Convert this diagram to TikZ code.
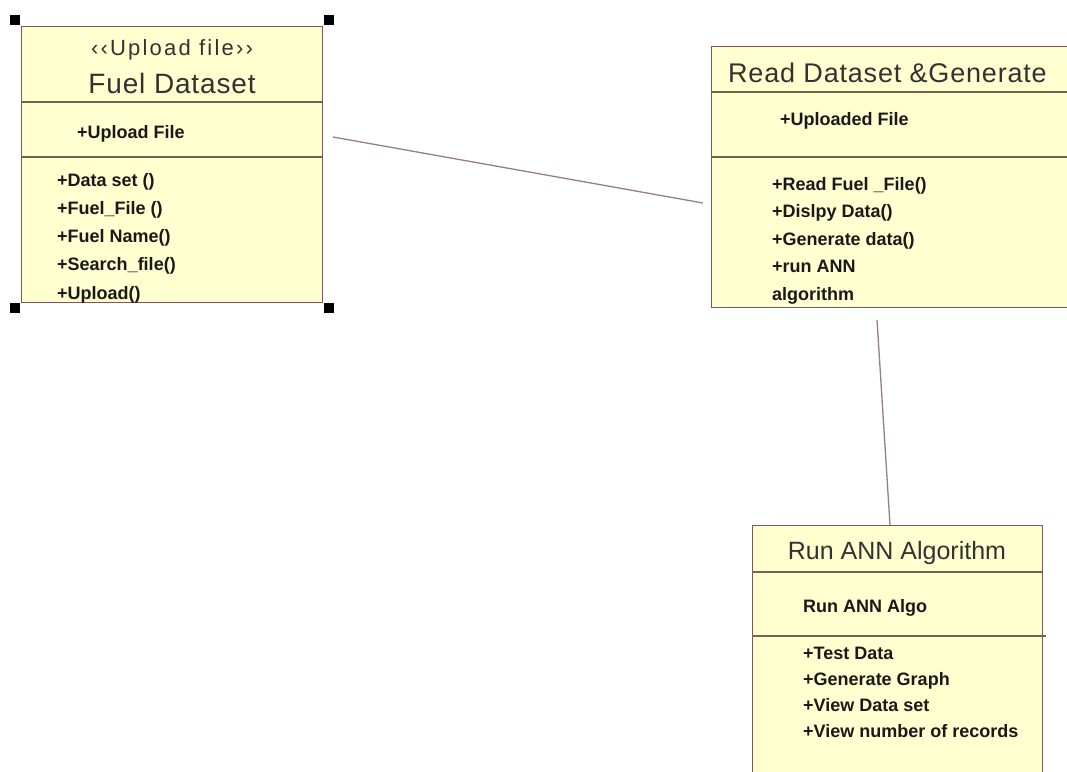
\documentclass[tikz,border=0pt]{standalone}
\usepackage{fontspec}
\setmainfont{Liberation Sans}
\newfontfamily\membfont{Liberation Sans Bold}
\newfontfamily\titlefont[LetterSpace=3]{Liberation Sans}
\newfontfamily\stereofont[LetterSpace=10]{Liberation Sans}
\definecolor{boxfill}{RGB}{255,255,208}
\definecolor{boxline}{RGB}{140,80,90}
\definecolor{divline}{RGB}{115,100,80}
\definecolor{connline}{RGB}{150,128,122}
\definecolor{titletext}{RGB}{50,50,50}
\definecolor{membtext}{RGB}{25,25,25}
\begin{document}
\begin{tikzpicture}[x=1pt,y=-1pt,
  classbox/.style={rectangle, draw=boxline, fill=boxfill, line width=1.3pt, inner sep=0pt, anchor=north west},
  divider/.style={draw=divline, line width=1.2pt},
  handle/.style={rectangle, fill=black, inner sep=0pt, minimum size=10pt},
  member/.style={anchor=west, inner sep=0pt, text=membtext, font=\membfont\fontsize{18}{20}\selectfont, text height=14pt, text depth=4pt},
  titlenode/.style={inner sep=0pt, text=titletext},
  connector/.style={draw=connline, line width=1.3pt}]
\useasboundingbox (0,0) rectangle (1067,771);
\clip (0,0) rectangle (1067,771);
\fill[white] (0,0) rectangle (1067,771);

% ---------- Box 1: Fuel Dataset ----------
\node[classbox, minimum width=301pt, minimum height=276pt] (box1) at (21,26) {};
\draw[divider] (21,102) -- (322,102);
\draw[divider] (21,157) -- (322,157);
\node[titlenode, font=\stereofont\fontsize{22}{24}\selectfont] (st1) at (172,50) {‹‹Upload file››};
\node[titlenode, font=\titlefont\fontsize{28}{30}\selectfont] (t1) at (172,83) {Fuel Dataset};
\node[member] (a1) at (77,133) {+Upload File};
\foreach \txt [count=\i] in {+Data set (), +Fuel\_File (), +Fuel Name(), +Search\_file(), +Upload()}
  \node[member] (m1\i) at (57,181+28.3*\i-28.3) {\txt};
\node[handle] (h1) at (15,19.5) {};
\node[handle] (h2) at (329,19.5) {};
\node[handle] (h3) at (15,307.5) {};
\node[handle] (h4) at (329,307.5) {};

% ---------- Box 2: Read Dataset & Generate ----------
\node[classbox, minimum width=380pt, minimum height=261pt] (box2) at (711,46) {};
\draw[divider] (711,92) -- (1067,92);
\draw[divider] (711,157) -- (1067,157);
\node[titlenode, font=\titlefont\fontsize{27}{29}\selectfont, anchor=west] (t2) at (728,73) {Read Dataset \&Generate};
\node[member] (a2) at (780,120) {+Uploaded File};
\foreach \txt [count=\i] in {+Read Fuel \_File(), +Dislpy Data(), +Generate data(), +run ANN, algorithm}
  \node[member] (m2\i) at (772,185+27.5*\i-27.5) {\txt};

% ---------- Box 3: Run ANN Algorithm ----------
\node[classbox, minimum width=290pt, minimum height=260pt] (box3) at (752,525) {};
\draw[divider] (752,572) -- (1042,572);
\draw[divider] (752,636) -- (1046,636);
\node[titlenode, font=\fontsize{25}{27}\selectfont] (t3) at (897,553) {Run ANN Algorithm};
\node[member] (a3) at (803,607) {Run ANN Algo};
\foreach \txt [count=\i] in {+Test Data, +Generate Graph, +View Data set, +View number of records}
  \node[member] (m3\i) at (803,654+26*\i-26) {\txt};

% ---------- Connectors ----------
\coordinate (c1s) at (333,137);
\coordinate (c1e) at (703,203);
\coordinate (c2s) at (877,320);
\coordinate (c2e) at (890,525);
\draw[connector] (c1s) -- (c1e);
\draw[connector] (c2s) -- (c2e);
\end{tikzpicture}
\end{document}
